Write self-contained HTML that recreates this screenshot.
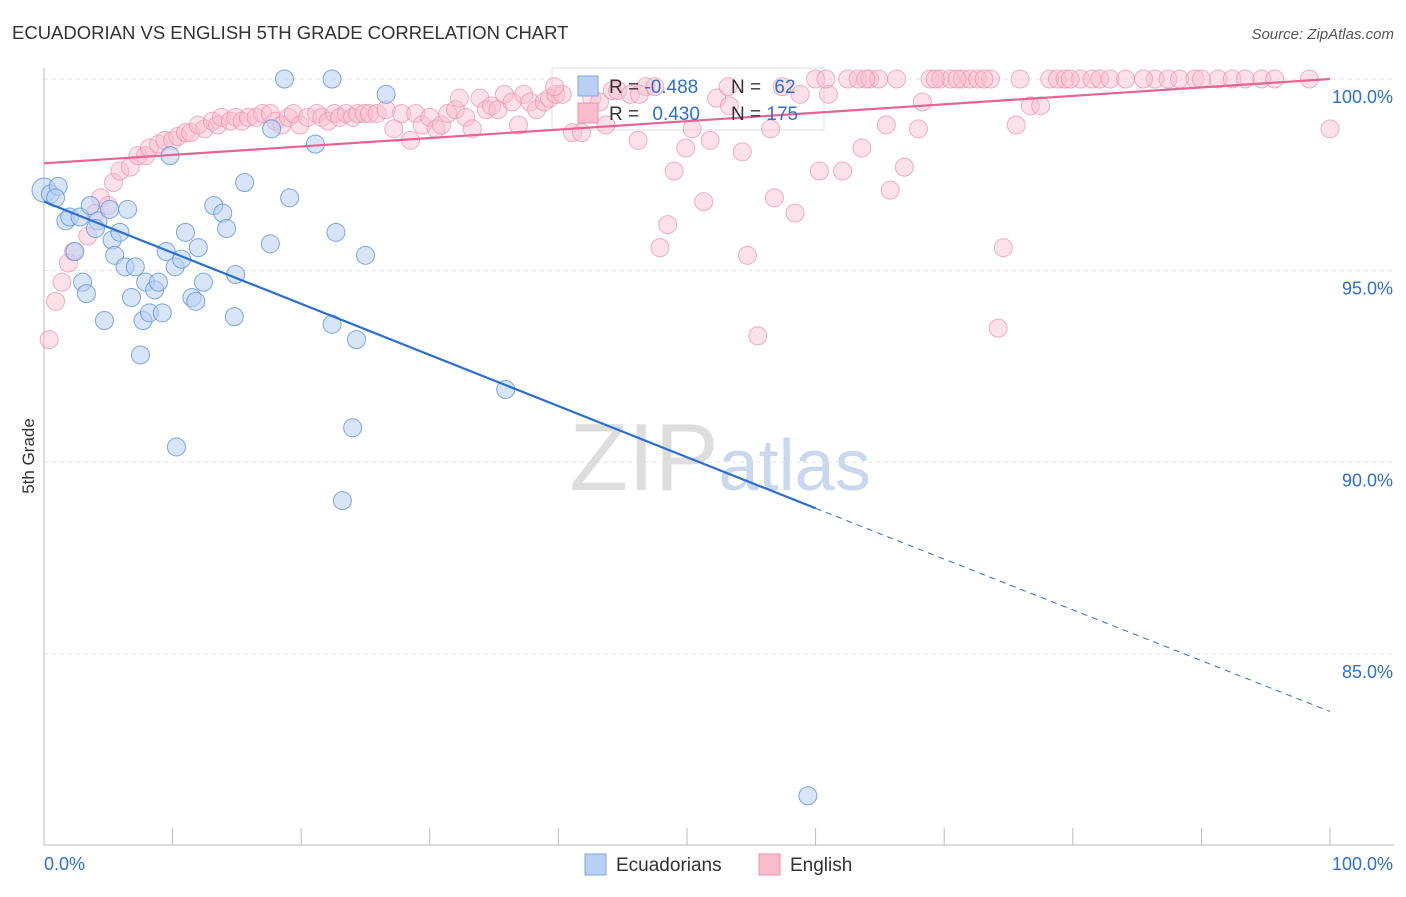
<!DOCTYPE html>
<html><head><meta charset="utf-8"><style>
body{margin:0;background:#fff;font-family:"Liberation Sans",sans-serif}
svg text{font-family:"Liberation Sans",sans-serif}
</style></head><body>
<svg id="c" width="1406" height="892" xmlns="http://www.w3.org/2000/svg">
<text x="12" y="39" font-size="18.5" fill="#333">ECUADORIAN VS ENGLISH 5TH GRADE CORRELATION CHART</text>
<text x="1394" y="39" font-size="15" fill="#555" text-anchor="end" font-style="italic">Source: ZipAtlas.com</text>
<text x="720" y="490" font-size="96" fill="#ddd" text-anchor="middle" font-family="Liberation Serif">ZIP<tspan fill="#c8d8ee" font-family="Liberation Sans" font-size="72">atlas</tspan></text>
<g id="grid"></g><g id="axes"></g>
<g>
<rect x="552" y="68" width="272" height="62" fill="#fff" stroke="#ddd"/>
</g>
<g id="pts"></g><g id="lines"></g>
<text x="34" y="456" font-size="17" fill="#333" text-anchor="middle" transform="rotate(-90 34 456)">5th Grade</text>
<g>
<rect x="578" y="76" width="20" height="20" fill="#b8d0f4" stroke="#7aa6e6"/>
<rect x="578" y="103" width="20" height="20" fill="#f8bccd" stroke="#ec8fab"/>
<text x="609" y="93" font-size="19" fill="#333">R = <tspan fill="#2d6fd6">-0.488</tspan></text>
<text x="731" y="93" font-size="19" fill="#333">N = <tspan fill="#2d6fd6" dx="8">62</tspan></text>
<text x="609" y="120" font-size="19" fill="#333">R = <tspan fill="#2d6fd6" dx="8">0.430</tspan></text>
<text x="731" y="120" font-size="19" fill="#333">N = <tspan fill="#2d6fd6">175</tspan></text>
</g>
<g><rect x="585" y="854" width="21" height="21" fill="#b8d0f4" stroke="#7aa6e6"/><text x="616" y="871" font-size="19" fill="#333">Ecuadorians</text></g>
<g><rect x="759" y="854" width="21" height="21" fill="#f8bccd" stroke="#ec8fab"/><text x="790" y="871" font-size="19" fill="#333">English</text></g>
</svg>
<script>
const yTicks=[100,95,90,85];
const yTickLabels=["100.0%","95.0%","90.0%","85.0%"];
const xTicks=[0,10,20,30,40,50,60,70,80,90,100];
const blueX=[0,0.5,1.1,0.9,1.7,2.0,2.8,3.6,4.2,4.0,5.1,6.5,2.4,3.0,3.3,4.7,5.3,5.5,5.9,6.3,7.1,6.8,7.5,7.7,8.2,7.9,8.6,8.9,9.2,9.5,9.8,10.2,10.7,11.0,11.5,11.8,12.0,12.4,13.2,13.9,14.2,14.9,14.8,15.6,17.6,17.7,18.7,19.1,21.1,22.4,22.7,22.4,24.3,25.0,26.6,24.0,23.2,10.3,35.9,59.4];
const blueY=[97.1,97.0,97.2,96.9,96.3,96.4,96.4,96.7,96.3,96.1,96.6,96.6,95.5,94.7,94.4,93.7,95.8,95.4,96.0,95.1,95.1,94.3,92.8,93.7,93.9,94.7,94.5,94.7,93.9,95.5,98.0,95.1,95.3,96.0,94.3,94.2,95.6,94.7,96.7,96.5,96.1,94.9,93.8,97.3,95.7,98.7,100,96.9,98.3,100,96.0,93.6,93.2,95.4,99.6,90.9,89.0,90.4,91.9,81.3];
const pinkX=[0.4,0.9,1.4,1.9,2.3,3.4,4.0,4.4,5.0,5.4,5.9,6.7,7.3,7.9,8.2,8.9,9.4,10.0,10.4,11.0,11.4,12.0,12.5,13.1,13.5,13.8,14.5,14.9,15.4,15.9,16.5,17.0,17.6,18.0,18.5,19.0,19.4,19.9,20.5,21.2,21.6,22.1,22.6,23.0,23.5,24.0,24.4,24.9,25.3,25.9,26.6,27.2,27.8,28.5,28.9,29.4,30.0,30.5,30.9,31.4,32.0,32.3,32.8,33.3,33.9,34.4,34.8,35.3,35.8,36.4,36.9,37.3,37.8,38.3,38.9,39.3,39.8,40.3,41.1,41.8,42.6,43.2,43.7,44.2,44.6,45.6,46.2,46.8,47.5,47.9,48.5,49.0,49.9,50.4,51.3,51.8,52.3,53.2,54.3,54.7,55.5,56.5,56.8,57.4,58.4,58.8,60.0,60.3,61.0,62.1,62.5,63.3,63.6,64.2,64.9,65.5,65.8,66.3,66.9,68.0,68.3,68.9,69.7,70.5,71.4,72.0,72.6,73.6,74.2,74.6,75.6,75.9,76.7,77.5,78.2,78.8,79.4,80.6,81.5,82.1,82.9,84.1,86.4,87.4,88.3,89.5,91.3,92.4,93.4,94.7,95.7,98.4,100,53.3,46.3,39.7,60.8,63.9,69.3,71.0,73.1,79.8,85.5,90.0];
const pinkY=[93.2,94.2,94.7,95.2,95.5,95.9,96.5,96.9,96.7,97.3,97.6,97.7,98.0,98.0,98.2,98.3,98.4,98.4,98.5,98.6,98.6,98.8,98.7,98.9,98.8,99.0,98.9,99.0,98.9,99.0,99.0,99.1,99.1,98.9,98.8,99.0,99.1,98.8,99.0,99.1,99.0,98.9,99.1,99.0,99.1,99.0,99.1,99.1,99.1,99.1,99.2,98.7,99.1,98.4,99.1,98.8,99.0,98.7,98.8,99.1,99.2,99.5,99.0,98.7,99.5,99.2,99.3,99.2,99.6,99.4,98.8,99.6,99.4,99.2,99.4,99.5,99.6,99.6,98.6,98.6,99.5,99.4,98.8,99.7,99.7,99.6,98.4,99.8,99.8,95.6,96.2,97.6,98.2,98.7,96.8,98.4,99.5,99.8,98.1,95.4,93.3,98.7,96.9,99.8,96.5,99.6,100,97.6,99.6,97.6,100,100,98.2,100,100,98.8,97.1,100,97.7,98.7,99.4,100,100,100,100,100,100,100,93.5,95.6,98.8,100,99.3,99.3,100,100,100,100,100,100,100,100,100,100,100,100,100,100,100,100,100,100,98.7,99.3,99.6,99.8,100,100,100,100,100,100,100,100];
const blueTrendX=[0,60,100];
const blueTrendY=[96.8,88.8,83.5];
const pinkTrendX=[0,100];
const pinkTrendY=[97.8,100];
const NS="http://www.w3.org/2000/svg";
const sx=v=>44+v*12.86;
const sy=v=>79+(100-v)*38.33;
function mk(t,a,p){const e=document.createElementNS(NS,t);for(const k in a)e.setAttribute(k,a[k]);p.appendChild(e);return e;}
const grid=document.getElementById('grid'),axes=document.getElementById('axes'),pts=document.getElementById('pts'),lines=document.getElementById('lines');
yTicks.forEach((v,i)=>{
 const l=mk('line',{x1:44,x2:1394,y1:sy(v),y2:sy(v),stroke:'#e2e2e2','stroke-dasharray':'4 4'},grid);
 
 
 const t=mk('text',{x:1393,y:sy(v)+24,'font-size':18,fill:'#2d6fd6','text-anchor':'end'},axes);
 t.textContent=yTickLabels[i];
 
 
});
const ya=mk('line',{x1:44,x2:44,y1:68,y2:845,stroke:'#bbb'},axes);


const xa=mk('line',{x1:44,x2:1394,y1:845,y2:845,stroke:'#bbb'},axes);


xTicks.forEach(v=>{const t=mk('line',{x1:sx(v),x2:sx(v),y1:828,y2:845,stroke:'#bbb'},axes);
 
 });
const x0=mk('text',{x:44,y:870,'font-size':18,fill:'#2d6fd6'},axes);x0.textContent='0.0%';


const x1=mk('text',{x:1393,y:870,'font-size':18,fill:'#2d6fd6','text-anchor':'end'},axes);x1.textContent='100.0%';


pinkX.forEach((v,i)=>{const c=mk('circle',{cx:sx(v),cy:sy(pinkY[i]),r:9,fill:'#f8bccd','fill-opacity':0.45,stroke:'#ec8fab','stroke-opacity':0.7},pts);
 
 });
blueX.forEach((v,i)=>{const c=mk('circle',{cx:sx(v),cy:sy(blueY[i]),r:i==0?12:9,fill:'#b8d0f4','fill-opacity':0.55,stroke:'#5c92de','stroke-opacity':0.8},pts);
 
 });
const bl=mk('line',{x1:sx(blueTrendX[0]),y1:sy(blueTrendY[0]),x2:sx(blueTrendX[1]),y2:sy(blueTrendY[1]),stroke:'#2a6fd6','stroke-width':2.2},lines);


const bd=mk('line',{x1:sx(blueTrendX[1]),y1:sy(blueTrendY[1]),x2:sx(blueTrendX[2]),y2:sy(blueTrendY[2]),stroke:'#2a6fd6','stroke-width':1,'stroke-dasharray':'6 5'},lines);


const pl=mk('line',{x1:sx(pinkTrendX[0]),y1:sy(pinkTrendY[0]),x2:sx(pinkTrendX[1]),y2:sy(pinkTrendY[1]),stroke:'#e8638e','stroke-width':2.2},lines);


</script>
</body></html>
